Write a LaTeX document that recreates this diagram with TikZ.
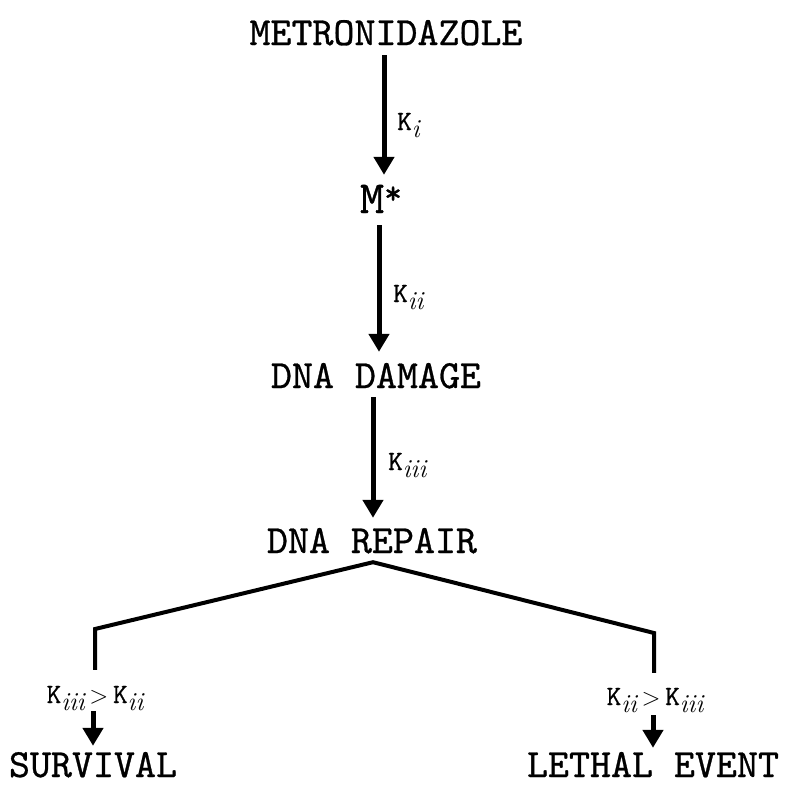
\documentclass[tikz,border=0pt]{standalone}
\usepackage{fontspec}
\newfontfamily\typ{lmmono10-regular.otf}[FakeBold=0.7]
\usetikzlibrary{arrows.meta}
\newcommand\Ksub[1]{{\typ K}\raisebox{-7pt}{\fontsize{26}{26}\selectfont$\mathit{#1}$}}
\tikzset{
  mainlab/.style={inner sep=0pt, anchor=base, text height=25pt, text depth=0pt,
    font=\fontsize{40}{40}\selectfont\typ},
  klab/.style={inner sep=0pt, anchor=base west, text height=17pt, text depth=8pt,
    font=\fontsize{28}{28}\selectfont},
  condlab/.style={inner sep=0pt, anchor=base, text height=17pt, text depth=8pt,
    font=\fontsize{28}{28}\selectfont},
  arr/.style={line width=5pt, -{Triangle[width=20pt,length=18pt]}},
  branch/.style={line width=4pt, line join=miter}
}
\begin{document}
\begin{tikzpicture}[x=1pt,y=-1pt]
\useasboundingbox (0,0) rectangle (790,785);
% main nodes
\node[mainlab] (met) at (386,45) {METRONIDAZOLE};
\node[mainlab, text height=28pt, font=\fontsize{46}{46}\selectfont\typ] (mstar) at (381,213)
  {M\raisebox{9pt}{\fontsize{34}{34}\selectfont *}};
\node[mainlab] (dd) at (376,388) {DNA DAMAGE};
\node[mainlab] (rep) at (372,553) {DNA REPAIR};
\node[mainlab] (surv) at (93,777) {SURVIVAL};
\node[mainlab] (leth) at (653,777) {LETHAL EVENT};
% rate labels
\node[klab] (k1) at (397,130) {\Ksub{i}};
\node[klab] (k2) at (393,302) {\Ksub{ii}};
\node[klab] (k3) at (388,470) {\Ksub{iii}};
\node[condlab] (lc) at (95,703) {\Ksub{iii}\,$>$\,\Ksub{ii}};
\node[condlab] (rc) at (655,705) {\Ksub{ii}\,$>$\,\Ksub{iii}};
% arrows
\draw[arr] ([shift={(-2,10)}]met.south) -- ([shift={(3,-10)}]mstar.north);
\draw[arr] ([shift={(-2,12)}]mstar.south) -- ([shift={(3,-11)}]dd.north);
\draw[arr] ([shift={(-3,9)}]dd.south) -- ([shift={(1,-10)}]rep.north);
% branch
\coordinate (lcorner) at (95,629);
\coordinate (rcorner) at (654,633);
\draw[branch] ([shift={(0,-16)}]lc.north) -- (lcorner) -- ([shift={(1,9)}]rep.south)
  -- (rcorner) -- ([shift={(-1,-15)}]rc.north);
% bottom arrows
\draw[arr] ([shift={(-2,0)}]lc.south) -- ([shift={(0,-6)}]surv.north);
\draw[arr] ([shift={(-2,2)}]rc.south) -- ([shift={(0,-4)}]leth.north);
\end{tikzpicture}
\end{document}
